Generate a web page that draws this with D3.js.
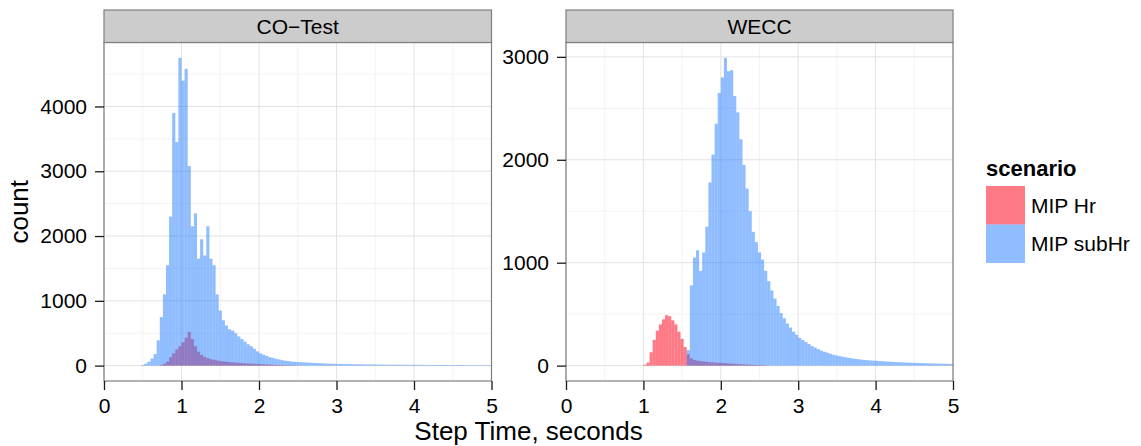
<!DOCTYPE html>
<html>
<head>
<meta charset="utf-8">
<script src="https://cdn.jsdelivr.net/npm/d3@7"></script>
<style>
body { margin: 0; background: #fff; }
svg { display: block; }
</style>
</head>
<body>
<div id="chart"></div>
<script>
// histogram counts (bin width 0.04 s)
const binWidth = 0.04;
const scenarios = ['MIP Hr', 'MIP subHr'];
const panelNames = ['CO\u2212Test', 'WECC'];
const xTicks = [0, 1, 2, 3, 4, 5];
const coYTicks = [0, 1000, 2000, 3000, 4000];
const weccYTicks = [0, 1000, 2000, 3000];

const coHrStart = 0.72;
const coHr = [10, 30, 60, 130, 190, 250, 300, 360, 430, 520, 410, 300, 215, 165, 135, 115, 100, 90, 80, 72,
    65, 60, 55, 50, 46, 43, 40, 37, 34, 31, 28, 25, 22, 20, 18, 15, 13, 11, 9, 8, 6, 5, 4, 3];
const coSubStart = 0.48;
const coSub = [10, 30, 60, 110, 180, 390, 750, 1100, 1550, 2300, 3900, 3450, 4750, 4400, 4580, 3080, 2150, 2350, 1650, 1950,
    1700, 2150, 1650, 1550, 1100, 850, 700, 620, 560, 540, 500, 450, 410, 370, 330, 300, 260, 220, 190, 170,
    150, 130, 120, 105, 95, 85, 75, 70, 62, 58, 55, 52, 50, 48, 45, 42, 40, 38, 35, 33,
    30, 28, 27, 26, 25, 24, 23, 22, 21, 20, 20, 19, 18, 18, 17, 17, 16, 16, 15, 15,
    14, 14, 14, 13, 13, 13, 12, 12, 12, 11, 11, 11, 11, 10, 10, 10, 10, 10, 9, 9,
    9, 9, 9, 9, 8, 8, 8, 8, 8, 8, 8, 8, 8];

const weccHrStart = 1.00;
const weccHr = [10, 30, 130, 250, 340, 400, 450, 490, 480, 440, 400, 330, 260, 180, 110, 70, 55, 48, 44, 40,
    37, 34, 31, 29, 27, 25, 23, 21, 19, 17, 15, 13, 11, 10, 8, 7, 6, 5, 4, 3];
const weccSubStart = 1.56;
const weccSub = [150, 780, 1050, 1120, 920, 1100, 1350, 1780, 2050, 2350, 2650, 2800, 2990, 2860, 2870, 2620, 2460, 2200, 1950, 1720,
    1500, 1300, 1200, 1100, 1030, 920, 820, 730, 650, 580, 510, 460, 410, 370, 330, 300, 270, 250, 230, 210,
    190, 175, 160, 145, 135, 125, 115, 105, 98, 92, 85, 80, 75, 70, 66, 62, 58, 55, 52, 50,
    48, 46, 44, 42, 40, 38, 36, 35, 33, 32, 30, 29, 28, 27, 26, 25, 24, 23, 22, 21,
    20, 19, 18, 18, 17, 16];

const colors = {'MIP Hr': '#ff0018', 'MIP subHr': '#1f7bff'};
const opac = {'MIP Hr': 0.52, 'MIP subHr': 0.5};

const width = 1141, height = 446;
const panelTop = 42.5, panelBottom = 381, stripTop = 10;
const panelX = [[104, 491.5], [566, 953]];
const font = '"Liberation Sans", Arial, sans-serif';

const svg = d3.select('#chart')
    .append('svg')
    .attr('width', width)
    .attr('height', height)
    .style('font-family', font);

const panels = [
    {name: panelNames[0], yTicks: coYTicks, series: [
        {key: scenarios[0], start: coHrStart, values: coHr},
        {key: scenarios[1], start: coSubStart, values: coSub}]},
    {name: panelNames[1], yTicks: weccYTicks, series: [
        {key: scenarios[0], start: weccHrStart, values: weccHr},
        {key: scenarios[1], start: weccSubStart, values: weccSub}]}
];

panels.forEach((p, i) => {
    const x = d3.scaleLinear().domain([0, 5]).range(panelX[i]);
    const yMax = d3.max(p.series, s => d3.max(s.values));
    const y = d3.scaleLinear()
        .domain([-0.05 * yMax, 1.05 * yMax])
        .range([panelBottom, panelTop]);
    const g = svg.append('g');
    const x0 = panelX[i][0], x1 = panelX[i][1];

    // background grid
    const minorX = xTicks.slice(0, -1).map(d => d + 0.5);
    const minorY = p.yTicks.map(d => d + 500).filter(d => d < y.domain()[1]);
    g.selectAll('.mx').data(minorX).enter().append('line')
        .attr('x1', d => x(d)).attr('x2', d => x(d))
        .attr('y1', panelTop).attr('y2', panelBottom)
        .attr('stroke', '#f3f3f3').attr('stroke-width', 1);
    g.selectAll('.my').data(minorY).enter().append('line')
        .attr('x1', x0).attr('x2', x1)
        .attr('y1', d => y(d)).attr('y2', d => y(d))
        .attr('stroke', '#f3f3f3').attr('stroke-width', 1);
    g.selectAll('.gx').data(xTicks).enter().append('line')
        .attr('x1', d => x(d)).attr('x2', d => x(d))
        .attr('y1', panelTop).attr('y2', panelBottom)
        .attr('stroke', '#e2e2e2').attr('stroke-width', 1);
    g.selectAll('.gy').data(p.yTicks).enter().append('line')
        .attr('x1', x0).attr('x2', x1)
        .attr('y1', d => y(d)).attr('y2', d => y(d))
        .attr('stroke', '#e2e2e2').attr('stroke-width', 1);

    // bars, clipped to the panel
    const clipId = 'clip' + i;
    svg.append('clipPath').attr('id', clipId)
        .append('rect')
        .attr('x', x0).attr('y', panelTop)
        .attr('width', x1 - x0).attr('height', panelBottom - panelTop);
    const bars = g.append('g').attr('clip-path', `url(#${clipId})`);
    p.series.forEach(s => {
        bars.append('g').selectAll('rect')
            .data(s.values)
            .enter()
            .append('rect')
            .attr('x', (d, k) => x(s.start + k * binWidth))
            .attr('width', x(binWidth) - x(0))
            .attr('y', d => y(d))
            .attr('height', d => y(0) - y(d))
            .attr('fill', colors[s.key])
            .attr('fill-opacity', opac[s.key]);
    });

    // panel border
    g.append('rect')
        .attr('x', x0).attr('y', panelTop)
        .attr('width', x1 - x0).attr('height', panelBottom - panelTop)
        .attr('fill', 'none').attr('stroke', '#7f7f7f').attr('stroke-width', 1.2);

    // strip
    g.append('rect')
        .attr('x', x0).attr('y', stripTop)
        .attr('width', x1 - x0).attr('height', panelTop - stripTop)
        .attr('fill', '#cccccc').attr('stroke', '#7f7f7f').attr('stroke-width', 1.2);
    g.append('text')
        .attr('x', (x0 + x1) / 2)
        .attr('y', (stripTop + panelTop) / 2 + 7.5)
        .attr('text-anchor', 'middle')
        .attr('font-size', '21px')
        .attr('fill', '#000')
        .text(p.name);

    // axes
    const xAxis = g.append('g')
        .attr('transform', `translate(0,${panelBottom})`)
        .call(d3.axisBottom(x).tickValues(xTicks).tickSize(9).tickPadding(8).tickFormat(d3.format('d')));
    const yAxis = g.append('g')
        .attr('transform', `translate(${x0},0)`)
        .call(d3.axisLeft(y).tickValues(p.yTicks).tickSize(9).tickPadding(8).tickFormat(d3.format('d')));
    [xAxis, yAxis].forEach(a => {
        a.select('.domain').remove();
        a.selectAll('line').attr('stroke', '#1a1a1a').attr('stroke-width', 1.3);
        a.selectAll('text').attr('font-size', '21px').attr('font-family', font).attr('fill', '#000');
    });
});

// axis titles
svg.append('text')
    .attr('x', (panelX[0][0] + panelX[1][1]) / 2)
    .attr('y', 440)
    .attr('text-anchor', 'middle')
    .attr('font-size', '26px')
    .text('Step Time, seconds');
svg.append('text')
    .attr('transform', `translate(28,${(panelTop + panelBottom) / 2}) rotate(-90)`)
    .attr('text-anchor', 'middle')
    .attr('font-size', '26px')
    .text('count');

// legend
const legend = svg.append('g').attr('transform', 'translate(986,0)');
legend.append('text')
    .attr('x', 0).attr('y', 176)
    .attr('font-size', '22px')
    .attr('font-weight', 'bold')
    .text('scenario');
const keyH = 38.5;
scenarios.forEach((s, k) => {
    const ky = 186 + k * keyH;
    legend.append('rect')
        .attr('x', 0).attr('y', ky)
        .attr('width', 39).attr('height', keyH)
        .attr('fill', colors[s])
        .attr('fill-opacity', opac[s]);
    legend.append('text')
        .attr('x', 45).attr('y', ky + keyH / 2 + 7.5)
        .attr('font-size', '21px')
        .text(s);
});
</script>
</body>
</html>
